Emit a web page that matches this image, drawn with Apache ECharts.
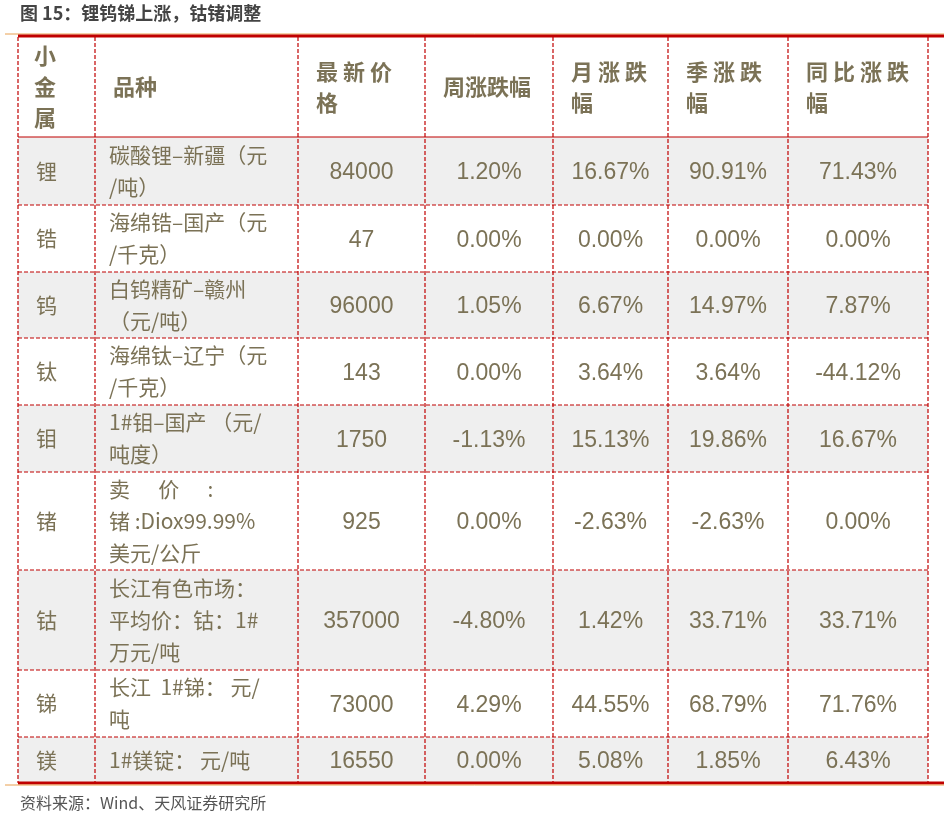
<!DOCTYPE html>
<html><head><meta charset="utf-8">
<script src="https://cdn.jsdelivr.net/npm/echarts@6/dist/echarts.min.js"></script>
<style>html,body{margin:0;background:#fff}#main{width:944px;height:825px}</style>
</head><body><div id="main"></div>
<script>
// 表头与数据
const headers = ['小\n金\n属', '品种', '最 新 价\n格', '周涨跌幅', '月 涨 跌\n幅', '季 涨 跌\n幅', '同 比 涨 跌\n幅'];
const metals = ['锂', '锆', '钨', '钛', '钼', '锗', '钴', '锑', '镁'];
const varieties = ['碳酸锂–新疆（元\n/吨）', '海绵锆–国产（元\n/千克）', '白钨精矿–赣州\n（元/吨）', '海绵钛–辽宁（元\n/千克）',
  '1#钼–国产 （元/\n吨度）', '卖      价      :\n锗 :Diox99.99%\n美元/公斤', '长江有色市场：\n平均价：钴：1#\n万元/吨', '长江  1#锑： 元/\n吨', '1#镁锭： 元/吨'];
const prices = ['84000', '47', '96000', '143', '1750', '925', '357000', '73000', '16550'];
const weekChg = ['1.20%', '0.00%', '1.05%', '0.00%', '-1.13%', '0.00%', '-4.80%', '4.29%', '0.00%'];
const monthChg = ['16.67%', '0.00%', '6.67%', '3.64%', '15.13%', '-2.63%', '1.42%', '44.55%', '5.08%'];
const quarterChg = ['90.91%', '0.00%', '14.97%', '3.64%', '19.86%', '-2.63%', '33.71%', '68.79%', '1.85%'];
const yoyChg = ['71.43%', '0.00%', '7.87%', '-44.12%', '16.67%', '0.00%', '33.71%', '71.76%', '6.43%'];

const colX = [18, 95, 298, 425, 553, 668, 788, 928];
const rowY = [37, 137, 205, 272, 338, 405, 472, 570, 670, 737, 783];
const txt = '#7b7256', red = '#c00000';

let els = [];
els.push({type: 'text', left: 20, top: 4, style: {text: '图 15：锂钨锑上涨，钴锗调整', font: 'bold 18px "Noto Sans CJK SC"', fill: '#444'}});
// 底色
for (let r = 0; r < metals.length; r++) {
  if (r % 2 === 0) els.push({type: 'rect', shape: {x: colX[0], y: rowY[r + 1], width: colX[7] - colX[0], height: rowY[r + 2] - rowY[r + 1]}, style: {fill: '#efefef'}});
}
// 文字
const cols = [metals, varieties, prices, weekChg, monthChg, quarterChg, yoyChg];
for (let c = 0; c < 7; c++) {
  let x0 = colX[c], x1 = colX[c + 1];
  let hx = c === 0 ? x0 + 16 : x0 + 18;
  els.push({type: 'text', x: hx, y: (rowY[0] + rowY[1]) / 2, style: {text: headers[c], font: 'bold 22px "Noto Sans CJK SC"', fill: txt, verticalAlign: 'middle', lineHeight: 31}});
  for (let r = 0; r < metals.length; r++) {
    let ym = (rowY[r + 1] + rowY[r + 2]) / 2;
    let v = cols[c][r];
    if (c === 1) {
      els.push({type: 'text', x: x0 + 14, y: ym, style: {text: v, font: '21px "Noto Sans CJK SC"', fill: txt, verticalAlign: 'middle', lineHeight: 32}});
    } else if (c === 0) {
      els.push({type: 'text', x: x0 + 18, y: ym, style: {text: v, font: '21px "Noto Sans CJK SC"', fill: txt, verticalAlign: 'middle'}});
    } else {
      els.push({type: 'text', x: (x0 + x1) / 2, y: ym + 2, style: {text: v, font: '23px "Liberation Sans"', fill: txt, align: 'center', verticalAlign: 'middle'}});
    }
  }
}
// 网格线
for (let r = 1; r < rowY.length - 1; r++) {
  els.push({type: 'line', shape: {x1: colX[0], y1: rowY[r], x2: colX[7], y2: rowY[r]}, style: {stroke: red, lineWidth: 1.2, lineDash: r === 1 ? null : [4, 2]}});
}
colX.forEach(x => els.push({type: 'line', shape: {x1: x, y1: rowY[0], x2: x, y2: rowY[rowY.length - 1]}, style: {stroke: red, lineWidth: 1.2, lineDash: [4, 2]}}));
els.push({type: 'line', shape: {x1: 5, y1: 34, x2: 944, y2: 34}, style: {stroke: '#e8a050', lineWidth: 1}});
els.push({type: 'line', shape: {x1: colX[0], y1: 36, x2: 944, y2: 36}, style: {stroke: red, lineWidth: 3}});
els.push({type: 'line', shape: {x1: colX[0], y1: rowY[10], x2: 944, y2: rowY[10]}, style: {stroke: red, lineWidth: 3}});
els.push({type: 'line', shape: {x1: 5, y1: rowY[10] + 2, x2: 944, y2: rowY[10] + 2}, style: {stroke: '#e8a050', lineWidth: 1}});
els.push({type: 'text', left: 20, top: 795, style: {text: '资料来源：Wind、天风证券研究所', font: '16px "Noto Sans CJK SC"', fill: '#555'}});

const chart = echarts.init(document.getElementById('main'));
chart.setOption({graphic: {elements: els}});
</script></body></html>
